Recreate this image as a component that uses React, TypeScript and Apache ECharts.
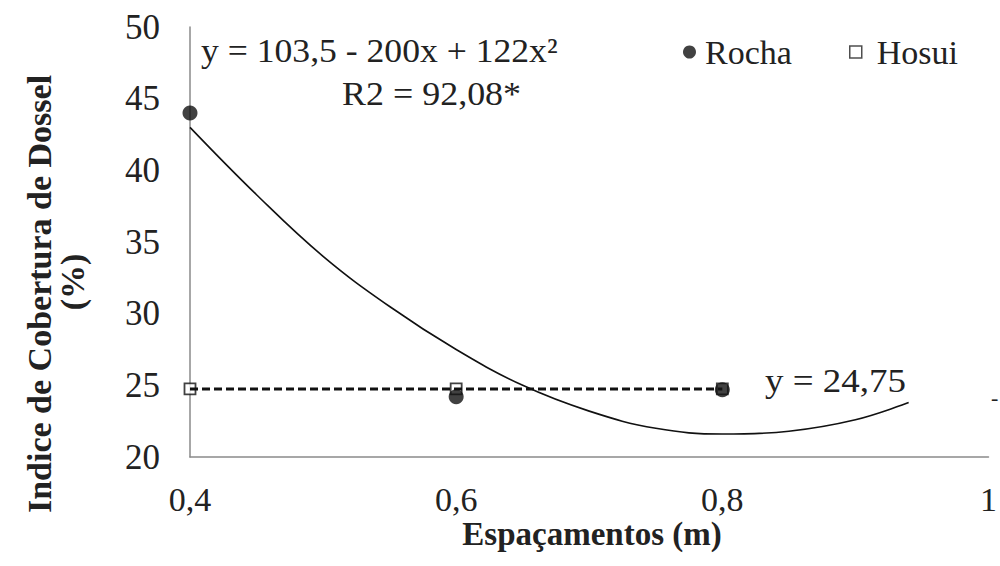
import React, { useEffect, useRef } from "react";
import * as echarts from "echarts";

// Measured points
const espacamentos = [0.4, 0.6, 0.8];
const rocha = [44.0, 24.2, 24.7];
const hosui = [24.75, 24.75, 24.75];

// Fitted curve for Rocha
const curveX = [0.4, 0.45, 0.5, 0.55, 0.6, 0.65, 0.7, 0.75, 0.8, 0.85, 0.9, 0.94];
const curveY = [43.0, 38.3, 34.0, 30.5, 27.5, 25.0, 23.2, 22.0, 21.6, 21.8, 22.6, 23.8];

// Flat fit for Hosui
const hosuiFitX = [0.4, 0.8];
const hosuiFitY = [24.75, 24.75];

const yTicks = { min: 20, max: 50, interval: 5 };
const xTicks = { min: 0.4, max: 1.0, interval: 0.2 };

const FONT = "Liberation Serif";
const TXT = "#222";

export default function App() {
  const ref = useRef<HTMLDivElement>(null);
  useEffect(() => {
    document.body.style.margin = "0";
    if (!ref.current) return;
    const chart = echarts.init(ref.current, null, { renderer: "svg" });
    const fmtX = (v: number) => String(Number(v.toFixed(1))).replace(".", ",");
    const legendText = { fontFamily: FONT, fontSize: 34, color: TXT };
    chart.setOption({
      animation: false,
      backgroundColor: "#fff",
      textStyle: { fontFamily: FONT },
      grid: { left: 190, right: 5, top: 27, bottom: 109 },
      legend: [
        {
          left: 678,
          top: 30,
          itemWidth: 13,
          itemHeight: 13,
          textStyle: { ...legendText, padding: [0, 0, 0, 4] },
          data: [{ name: "Rocha", icon: "circle", itemStyle: { color: "#111", borderWidth: 0 } }],
        },
        {
          left: 844,
          top: 30,
          itemWidth: 12,
          itemHeight: 12,
          textStyle: { ...legendText, padding: [0, 0, 0, 10] },
          data: [
            { name: "Hosui", icon: "rect", itemStyle: { color: "#fff", borderColor: "#222", borderWidth: 1.5 } },
          ],
        },
      ],
      xAxis: {
        type: "value",
        min: xTicks.min,
        max: xTicks.max,
        interval: xTicks.interval,
        axisLine: { show: true, lineStyle: { color: "#8a8a8a", width: 1.5 } },
        axisTick: { show: false },
        splitLine: { show: false },
        axisLabel: {
          fontFamily: FONT,
          fontSize: 34,
          color: TXT,
          margin: 25,
          showMinLabel: true,
          showMaxLabel: true,
          formatter: fmtX,
        },
      },
      yAxis: {
        type: "value",
        min: yTicks.min,
        max: yTicks.max,
        interval: yTicks.interval,
        axisLine: { show: true, lineStyle: { color: "#8a8a8a", width: 1.5 } },
        axisTick: { show: false },
        splitLine: { show: false },
        axisLabel: { fontFamily: FONT, fontSize: 35, color: TXT, margin: 30 },
      },
      graphic: [
        {
          type: "text",
          x: 201,
          y: 34,
          scaleX: 1.08,
          style: { text: "y = 103,5 - 200x + 122x²", fontFamily: FONT, fontSize: 33, fill: TXT },
        },
        {
          type: "text",
          x: 342,
          y: 77,
          scaleX: 1.09,
          style: { text: "R2 = 92,08*", fontFamily: FONT, fontSize: 33, fill: TXT },
        },
        {
          type: "text",
          x: 765,
          y: 365,
          scaleX: 1.12,
          style: { text: "y = 24,75", fontFamily: FONT, fontSize: 33, fill: TXT },
        },
        {
          type: "text",
          x: 991,
          y: 386,
          style: { text: "-", fontFamily: FONT, fontSize: 22, fill: TXT },
        },
        {
          type: "text",
          x: 39,
          y: 294,
          rotation: Math.PI / 2,
          style: {
            text: "Indice de Cobertura de Dossel",
            fontFamily: FONT,
            fontWeight: "bold",
            fontSize: 34,
            fill: TXT,
            align: "center",
            verticalAlign: "middle",
          },
        },
        {
          type: "text",
          x: 72,
          y: 282,
          rotation: Math.PI / 2,
          style: {
            text: "(%)",
            fontFamily: FONT,
            fontWeight: "bold",
            fontSize: 34,
            fill: TXT,
            align: "center",
            verticalAlign: "middle",
          },
        },
        {
          type: "text",
          x: 592,
          y: 534,
          style: {
            text: "Espaçamentos (m)",
            fontFamily: FONT,
            fontWeight: "bold",
            fontSize: 33,
            fill: TXT,
            align: "center",
            verticalAlign: "middle",
          },
        },
      ],
      series: [
        {
          name: "Ajuste Rocha",
          type: "line",
          smooth: 0.4,
          symbol: "none",
          data: curveX.map((x, i) => [x, curveY[i]]),
          lineStyle: { color: "#111", width: 1.6 },
          z: 2,
        },
        {
          name: "Hosui",
          type: "scatter",
          symbol: "rect",
          symbolSize: 11,
          data: espacamentos.map((x, i) => [x, hosui[i]]),
          itemStyle: { color: "#fff", borderColor: "#111", borderWidth: 1.8 },
          z: 3,
        },
        {
          name: "Ajuste Hosui",
          type: "line",
          symbol: "none",
          data: hosuiFitX.map((x, i) => [x, hosuiFitY[i]]),
          lineStyle: { color: "#111", width: 3, type: [8, 4] },
          z: 4,
        },
        {
          name: "Rocha",
          type: "scatter",
          symbol: "circle",
          symbolSize: 15,
          data: espacamentos.map((x, i) => [x, rocha[i]]),
          itemStyle: { color: "#111" },
          z: 5,
        },
      ],
    });
    return () => chart.dispose();
  }, []);
  return <div ref={ref} style={{ width: 1000, height: 566 }} />;
}
